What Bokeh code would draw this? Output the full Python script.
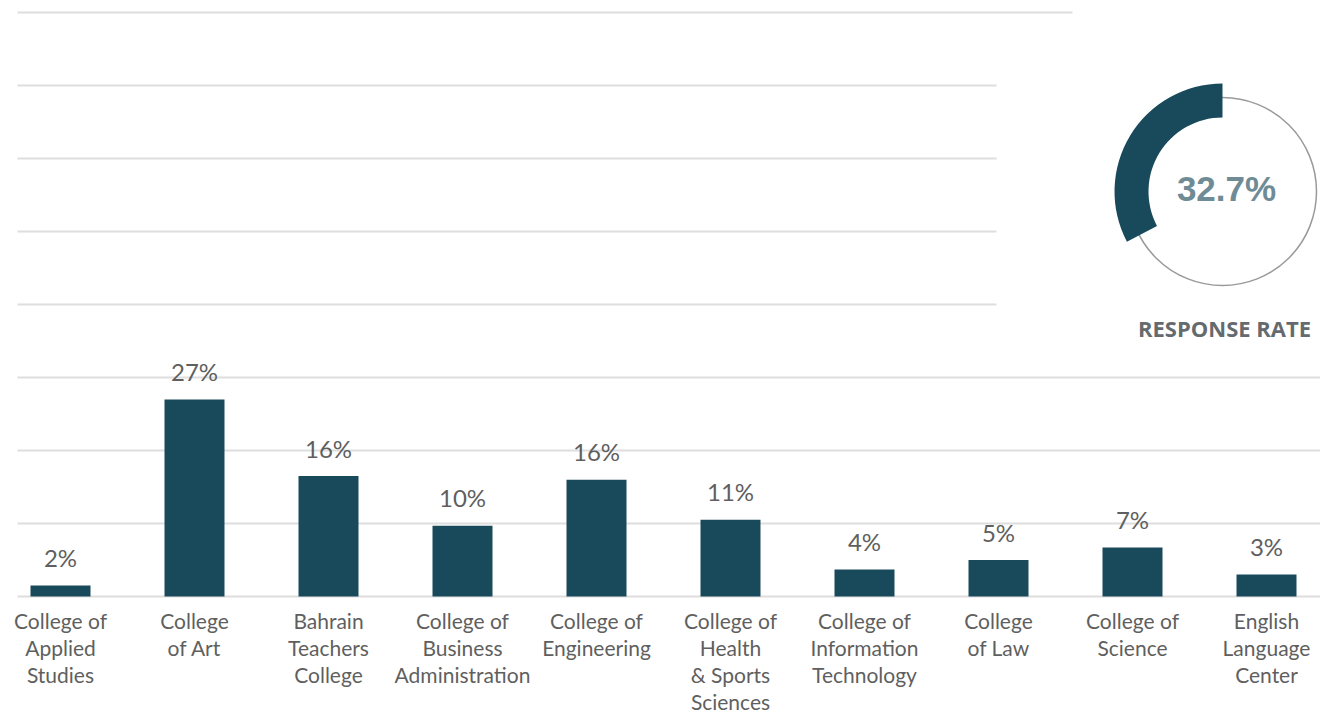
from bokeh.plotting import figure
from bokeh.models import Range1d, ColumnDataSource
from bokeh.core.properties import value
from bokeh.embed import file_html
from bokeh.resources import INLINE
import math

# ---- data ----
colleges = [
    "College of\nApplied\nStudies",
    "College\nof Art",
    "Bahrain\nTeachers\nCollege",
    "College of\nBusiness\nAdministration",
    "College of\nEngineering",
    "College of\nHealth\n& Sports\nSciences",
    "College of\nInformation\nTechnology",
    "College\nof Law",
    "College of\nScience",
    "English\nLanguage\nCenter",
]
shares = [1.5, 27, 16.5, 9.7, 16, 10.5, 3.7, 5, 6.7, 3]
share_labels = ["2%", "27%", "16%", "10%", "16%", "11%", "4%", "5%", "7%", "3%"]
response_rate = 32.7
response_label = "32.7%"
response_title = "RESPONSE RATE"
grid_levels = [0, 10, 20, 30, 40, 50, 60, 70, 80]

# ---- layout (pixels -> data helpers) ----
W, H = 1320, 712
PX_PER_CAT = 134.0
X0_PX = 60.0          # pixel position of the first bar centre
BASE_PX = 596.0       # pixel row of the zero line (from top)
PX_PER_PCT = 7.3

def px_x(px):
    return (px - X0_PX) / PX_PER_CAT

def px_y(py):
    return (BASE_PX - py) / PX_PER_PCT

BAR = "#184a5c"
TXT = "#5f5f5f"
GRID = "#dedede"

p = figure(width=W, height=H, output_backend="svg", toolbar_location=None,
           x_range=Range1d(px_x(0), px_x(W)), y_range=Range1d(px_y(H), px_y(0)),
           min_border=0, x_axis_type=None, y_axis_type=None)
p.grid.visible = False
p.outline_line_color = None
p.background_fill_color = "white"
p.border_fill_color = "white"

# grid lines with their differing right ends
gx0, gx1 = [], []
for g in grid_levels:
    gx0.append(px_x(17))
    if g == 80:
        gx1.append(px_x(1072))
    elif g >= 40:
        gx1.append(px_x(996))
    else:
        gx1.append(px_x(W))
p.segment(x0=gx0, x1=gx1, y0=grid_levels, y1=grid_levels, line_color=GRID, line_width=2)

xs = list(range(len(colleges)))
src = ColumnDataSource(dict(x=xs, top=shares, lab=share_labels, cat=colleges))
p.vbar(x="x", top="top", bottom=0, width=60 / PX_PER_CAT, source=src,
       fill_color=BAR, line_color=None)

p.text(x="x", y="top", text="lab", source=src, text_align="center",
       text_baseline="middle", y_offset=-28, text_font=value("Lato"),
       text_font_size="24px", text_color=TXT)

p.text(x="x", y=0, text="cat", source=src, text_align="center",
       text_baseline="top", y_offset=11, text_font=value("Lato"),
       text_font_size="21px", text_color=TXT, text_line_height=1.08)

# donut
cx, cy = px_x(1222), px_y(191)
p.circle(x=[cx], y=[cy], radius=94, radius_units="screen", fill_color=None,
         line_color="#9a9a9a", line_width=1.5)
p.annular_wedge(x=[cx], y=[cy], inner_radius=74, outer_radius=108,
                inner_radius_units="screen", outer_radius_units="screen",
                start_angle=math.pi / 2,
                end_angle=math.pi / 2 + 2 * math.pi * response_rate / 100,
                direction="anticlock", fill_color=BAR, line_color=None)
p.text(x=[cx], y=[cy], text=[response_label], text_align="center",
       text_baseline="middle", x_offset=4, y_offset=-3,
       text_font=value("Liberation Sans"), text_font_style="bold",
       text_font_size="35px", text_color="#6f8c96")
p.text(x=[cx], y=[cy], text=[response_title], text_align="center",
       text_baseline="middle", x_offset=2, y_offset=136,
       text_font=value("Open Sans"), text_font_style="bold",
       text_font_size="22px", text_color="#656a6e")

open("out.html", "w").write(file_html(p, INLINE))
